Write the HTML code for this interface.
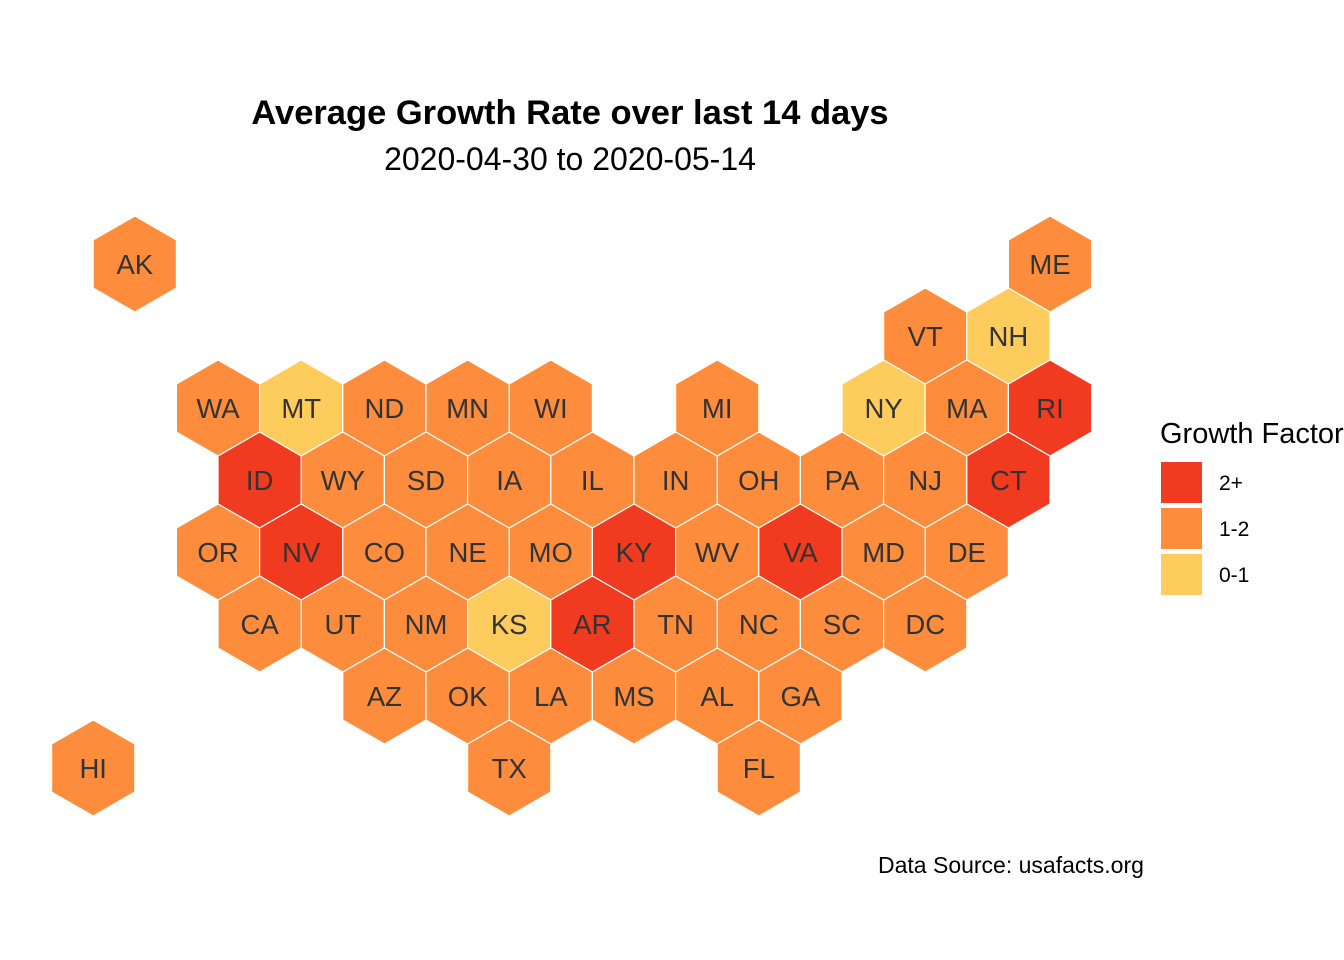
<!DOCTYPE html>
<html><head><meta charset="utf-8"><style>
body{margin:0;background:#fff}
svg{display:block;font-family:"Liberation Sans",Arial,sans-serif}
</style></head><body>
<svg id="chart" width="1344" height="960">
<text x="570" y="124" text-anchor="middle" font-size="34.5" font-weight="bold" fill="#000">Average Growth Rate over last 14 days</text>
<text x="570" y="170" text-anchor="middle" font-size="32" fill="#000">2020-04-30 to 2020-05-14</text>
<g id="hexes"></g>
<g>
<text x="1160" y="443" font-size="29" fill="#000">Growth Factor</text>
<g id="legend-keys"></g>
</g>
<text x="878" y="873" font-size="23" fill="#000">Data Source: usafacts.org</text>
</svg>
<script>
const states=["AK","ME","VT","NH","WA","MT","ND","MN","WI","MI","NY","MA","RI","ID","WY","SD","IA","IL","IN","OH","PA","NJ","CT","OR","NV","CO","NE","MO","KY","WV","VA","MD","DE","CA","UT","NM","KS","AR","TN","NC","SC","DC","AZ","OK","LA","MS","AL","GA","TX","FL","HI"];
const cols=[-1,10,8.5,9.5,0,1,2,3,4,6,8,9,10,0.5,1.5,2.5,3.5,4.5,5.5,6.5,7.5,8.5,9.5,0,1,2,3,4,5,6,7,8,9,0.5,1.5,2.5,3.5,4.5,5.5,6.5,7.5,8.5,2,3,4,5,6,7,3.5,6.5,-1.5];
const rows=[0,0,1,1,2,2,2,2,2,2,2,2,2,3,3,3,3,3,3,3,3,3,3,4,4,4,4,4,4,4,4,4,4,5,5,5,5,5,5,5,5,5,6,6,6,6,6,6,7,7,7];
const growth=["1-2","1-2","1-2","0-1","1-2","0-1","1-2","1-2","1-2","1-2","0-1","1-2","2+","2+","1-2","1-2","1-2","1-2","1-2","1-2","1-2","1-2","2+","1-2","2+","1-2","1-2","1-2","2+","1-2","2+","1-2","1-2","1-2","1-2","1-2","0-1","2+","1-2","1-2","1-2","1-2","1-2","1-2","1-2","1-2","1-2","1-2","1-2","1-2","1-2"];
const legendLabels=["2+","1-2","0-1"];
const colors={"2+":"#F03B20","1-2":"#FD8D3C","0-1":"#FECC5C"};
const NS="http://www.w3.org/2000/svg";
const dx=83.2,x0=218,y0=264,dy=72,r=48;
const xs=c=>x0+c*dx, ys=rw=>y0+rw*dy;
const g=document.getElementById('hexes');
states.forEach((s,i)=>{
  const cx=xs(cols[i]),cy=ys(rows[i]);
  const pts=[];
  for(let k=0;k<6;k++){const a=Math.PI/180*(60*k-90);pts.push((cx+r*Math.cos(a)).toFixed(1)+","+(cy+r*Math.sin(a)).toFixed(1));}
  const p=document.createElementNS(NS,'polygon');
  p.setAttribute('points',pts.join(' '));
  p.setAttribute('fill',colors[growth[i]]);
  p.setAttribute('stroke','#fff');p.setAttribute('stroke-width','1.2');
  
  
  g.appendChild(p);
  const t=document.createElementNS(NS,'text');
  t.setAttribute('x',cx);t.setAttribute('y',cy+10);
  t.setAttribute('text-anchor','middle');t.setAttribute('font-size','27.5');t.setAttribute('fill','#333');
  t.textContent=s;
  
  
  g.appendChild(t);
});
const lg=document.getElementById('legend-keys');
legendLabels.forEach((l,i)=>{
  const rc=document.createElementNS(NS,'rect');
  rc.setAttribute('x',1161);rc.setAttribute('y',462+i*46);rc.setAttribute('width',41);rc.setAttribute('height',41);
  rc.setAttribute('fill',colors[l]);
  
  
  lg.appendChild(rc);
  const t=document.createElementNS(NS,'text');
  t.setAttribute('x',1219);t.setAttribute('y',490+i*46);t.setAttribute('font-size','21');t.setAttribute('fill','#000');
  t.textContent=l;
  
  
  lg.appendChild(t);
});
</script>
</body></html>
